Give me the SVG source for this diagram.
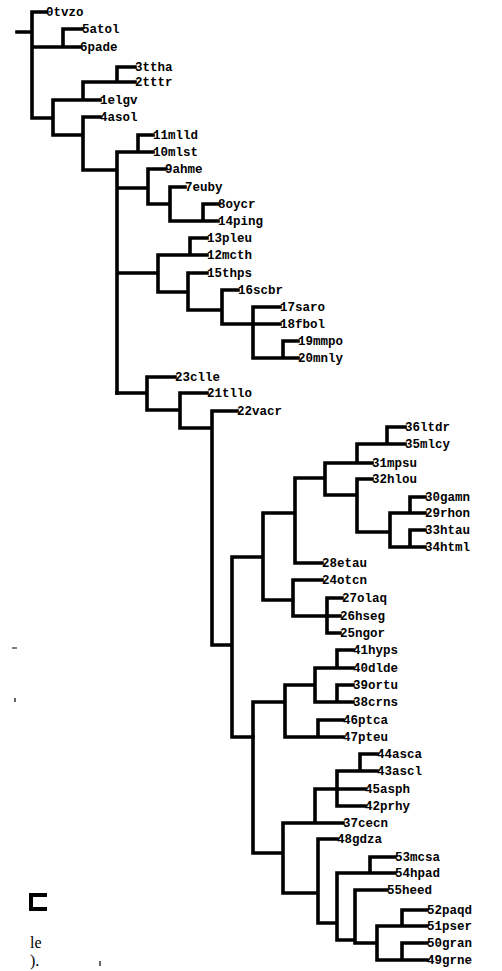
<svg xmlns="http://www.w3.org/2000/svg" width="502" height="971" viewBox="0 0 502 971">
<style>
.e{fill:none;stroke:#000;stroke-width:3.6;stroke-linecap:square;stroke-linejoin:miter}
.t{font-family:"Liberation Mono","DejaVu Sans Mono",monospace;font-weight:bold;font-size:12.5px;fill:#000}
.s{font-family:"Liberation Serif","Times New Roman",serif;font-size:16px;fill:#000}
.m{fill:none;stroke:#000;stroke-width:1.2}
</style>
<rect width="502" height="971" fill="#fff"/>
<g id="connectors">
<path class="e" d="M17,32H32 M32,12V118 M32,12H46 M32,47H80 M63,29V47 M63,29H82 M32,118H53 M53,100V135 M53,100H100 M83,82V100 M83,82H135 M117,67V82 M117,67H135 M53,135H83 M83,117V170 M83,117H100 M83,170H117 M117,152V393 M138,135V152 M138,135H153 M117,152H153 M117,188H148 M148,169V204 M148,169H165 M148,204H170 M170,187V221 M170,187H185 M170,221H203 M203,204V221 M203,204H218 M203,221H218 M190,238V255 M190,238H207 M158,255H207 M158,255V292 M117,273H158 M188,273V310 M188,273H207 M158,292H188 M188,310H222 M222,290V324 M222,290H238 M222,324H280 M253,307V358 M253,307H280 M253,358H298 M283,341V358 M283,341H298"/>
<path class="e" d="M117,393H147 M147,377V410 M147,377H175 M147,410H180 M180,393V428 M180,393H207 M180,428H212 M212,411V645 M212,411H237 M212,645H232 M232,557V737 M232,557H263 M232,737H253 M263,513V600 M263,513H295 M263,600H293 M295,478V563 M295,478H325 M295,563H322 M325,463V495 M325,463H357 M325,495H357 M357,444V463 M357,463H372 M357,444H405 M387,427V444 M387,427H405 M357,479V532 M357,479H372 M357,532H390 M390,513V547 M390,513H425 M410,497V513 M410,497H425 M390,547H425 M410,530V547 M410,530H425 M293,580V616 M293,580H322 M293,616H340 M327,598V633 M327,598H342 M327,633H340"/>
<path class="e" d="M253,702V853 M253,702H285 M285,685V737 M285,685H315 M285,737H343 M315,668V702 M315,668H353 M337,650V668 M337,650H353 M315,702H353 M337,685V702 M337,685H353 M318,720V737 M318,720H343 M253,853H283 M283,823V893 M283,823H343 M315,789V823 M315,789H365 M337,771V806 M337,771H377 M337,806H365 M360,754V771 M360,754H377 M283,893H318 M318,839V923 M318,839H337 M318,923H337 M337,873V940 M337,873H395 M370,857V873 M370,857H395 M337,940H355 M355,890V943 M355,890H387 M355,943H377 M377,926V960 M377,926H427 M377,960H427 M402,910V926 M402,910H427 M402,943V960 M402,943H427"/>
</g>
<g id="n0"><text class="t" x="46" y="16">0tvzo</text></g>
<g id="n5"><text class="t" x="82" y="33">5atol</text></g>
<g id="n6"><text class="t" x="80" y="51">6pade</text></g>
<g id="n3"><text class="t" x="135" y="71">3ttha</text></g>
<g id="n2"><text class="t" x="135" y="86">2tttr</text></g>
<g id="n1"><text class="t" x="100" y="104">1elgv</text></g>
<g id="n4"><text class="t" x="100" y="121">4asol</text></g>
<g id="n11"><text class="t" x="153" y="139">11mlld</text></g>
<g id="n10"><text class="t" x="153" y="156">10mlst</text></g>
<g id="n9"><text class="t" x="165" y="173">9ahme</text></g>
<g id="n7"><text class="t" x="185" y="191">7euby</text></g>
<g id="n8"><text class="t" x="218" y="208">8oycr</text></g>
<g id="n14"><text class="t" x="218" y="225">14ping</text></g>
<g id="n13"><text class="t" x="207" y="242">13pleu</text></g>
<g id="n12"><text class="t" x="207" y="259">12mcth</text></g>
<g id="n15"><text class="t" x="207" y="277">15thps</text></g>
<g id="n16"><text class="t" x="238" y="294">16scbr</text></g>
<g id="n17"><text class="t" x="280" y="311">17saro</text></g>
<g id="n18"><text class="t" x="280" y="328">18fbol</text></g>
<g id="n19"><text class="t" x="298" y="345">19mmpo</text></g>
<g id="n20"><text class="t" x="298" y="362">20mnly</text></g>
<g id="n23"><text class="t" x="175" y="381">23clle</text></g>
<g id="n21"><text class="t" x="207" y="397">21tllo</text></g>
<g id="n22"><text class="t" x="237" y="415">22vacr</text></g>
<g id="n36"><text class="t" x="405" y="431">36ltdr</text></g>
<g id="n35"><text class="t" x="405" y="448">35mlcy</text></g>
<g id="n31"><text class="t" x="372" y="467">31mpsu</text></g>
<g id="n32"><text class="t" x="372" y="483">32hlou</text></g>
<g id="n30"><text class="t" x="425" y="501">30gamn</text></g>
<g id="n29"><text class="t" x="425" y="517">29rhon</text></g>
<g id="n33"><text class="t" x="425" y="534">33htau</text></g>
<g id="n34"><text class="t" x="425" y="551">34html</text></g>
<g id="n28"><text class="t" x="322" y="567">28etau</text></g>
<g id="n24"><text class="t" x="322" y="584">24otcn</text></g>
<g id="n27"><text class="t" x="342" y="602">27olaq</text></g>
<g id="n26"><text class="t" x="340" y="620">26hseg</text></g>
<g id="n25"><text class="t" x="340" y="637">25ngor</text></g>
<g id="n41"><text class="t" x="353" y="654">41hyps</text></g>
<g id="n40"><text class="t" x="353" y="672">40dlde</text></g>
<g id="n39"><text class="t" x="353" y="689">39ortu</text></g>
<g id="n38"><text class="t" x="353" y="706">38crns</text></g>
<g id="n46"><text class="t" x="343" y="724">46ptca</text></g>
<g id="n47"><text class="t" x="343" y="741">47pteu</text></g>
<g id="n44"><text class="t" x="377" y="758">44asca</text></g>
<g id="n43"><text class="t" x="377" y="775">43ascl</text></g>
<g id="n45"><text class="t" x="365" y="793">45asph</text></g>
<g id="n42"><text class="t" x="365" y="810">42prhy</text></g>
<g id="n37"><text class="t" x="343" y="827">37cecn</text></g>
<g id="n48"><text class="t" x="337" y="843">48gdza</text></g>
<g id="n53"><text class="t" x="395" y="861">53mcsa</text></g>
<g id="n54"><text class="t" x="395" y="877">54hpad</text></g>
<g id="n55"><text class="t" x="387" y="894">55heed</text></g>
<g id="n52"><text class="t" x="427" y="914">52paqd</text></g>
<g id="n51"><text class="t" x="427" y="930">51pser</text></g>
<g id="n50"><text class="t" x="427" y="947">50gran</text></g>
<g id="n49"><text class="t" x="427" y="964">49grne</text></g>
<g id="fragment">
<path d="M47,895H31V909H47" fill="none" stroke="#000" stroke-width="4"/>
<text class="s" x="30" y="948">le</text>
<text class="s" x="30" y="966">).</text>
<path class="m" d="M12,648H17 M15,698V702 M100,961V966"/>
</g>
</svg>
